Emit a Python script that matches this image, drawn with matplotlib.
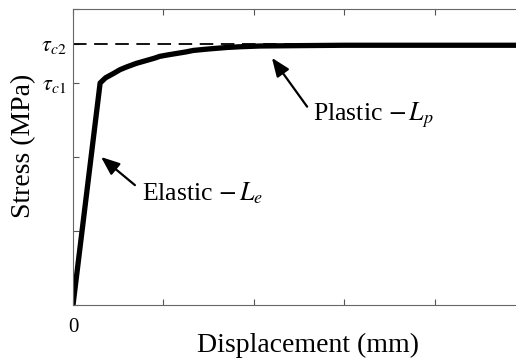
import matplotlib
matplotlib.use('Agg')
import matplotlib.pyplot as plt

plt.rcParams['font.family'] = ['Liberation Serif', 'DejaVu Serif']
plt.rcParams['mathtext.fontset'] = 'stix'

# stress-displacement curve
disp = [0, 0.3, 0.36, 0.45, 0.52, 0.6, 0.7, 0.8, 0.9, 0.96, 1.05, 1.15, 1.25,
        1.33, 1.5, 1.7, 1.85, 2.07, 2.5, 3.0, 5.0]
stress = [0, 3.0, 3.07, 3.13, 3.18, 3.22, 3.265, 3.30, 3.335, 3.36, 3.38, 3.40, 3.42,
          3.44, 3.46, 3.48, 3.49, 3.50, 3.505, 3.51, 3.51]
tau_c1 = 3.0
tau_c2 = 3.53
ytick_vals = [0, 1, 2, 3, 4]
tau_labels = [r'$\tau_{c1}$', r'$\tau_{c2}$']

fig = plt.figure(figsize=(5.16, 3.6), dpi=100)
ax = fig.add_axes([73/516, 1 - 305/360, (525 - 73)/516, (305 - 9)/360])

ax.axhline(tau_c2, color='black', lw=1.3, ls=(0, (7.5, 4.2)))
ax.plot(disp, stress, color='black', lw=3.8, solid_capstyle='round', solid_joinstyle='round')

ax.set_xlim(0, 5)
ax.set_ylim(0, 4)
ax.set_xticks([0, 1, 2, 3, 4, 5])
ax.set_xticklabels(['0', '', '', '', '', ''], fontsize=15)
ax.set_yticks(ytick_vals + [tau_c2])
ax.set_yticklabels(['', '', '', tau_labels[0], '', tau_labels[1]], fontsize=16)
ax.tick_params(direction='in', length=4, width=0.8, color='#555555', top=True)
ax.tick_params(axis='x', pad=9)
ax.tick_params(axis='y', pad=5)
for s in ax.spines.values():
    s.set_color('#666666')
    s.set_linewidth(0.8)

ax.set_xlabel('Displacement (mm)', fontsize=20)
ax.xaxis.set_label_coords(0.52, -0.135)
ax.xaxis.label.set_va('center')
ax.set_ylabel('Stress (MPa)', fontsize=20)
ax.yaxis.set_label_coords(-0.11, 0.537)
ax.yaxis.label.set_va('center')

arrow = dict(arrowstyle='-|>,head_length=0.75,head_width=0.3', mutation_scale=15,
             color='black', lw=1.6, shrinkA=0, shrinkB=0)
ax.annotate('', xy=(0.31, 2.0), xytext=(0.685, 1.62), arrowprops=arrow)
ax.text(0.76, 1.51, r'Elastic $-\,L_e$', fontsize=18.5, va='center', ha='left')
ax.annotate('', xy=(2.2, 3.34), xytext=(2.59, 2.68), arrowprops=arrow)
ax.text(2.65, 2.57, r'Plastic $-\,L_p$', fontsize=18.5, va='center', ha='left')

fig.savefig('out.png', dpi=100)
